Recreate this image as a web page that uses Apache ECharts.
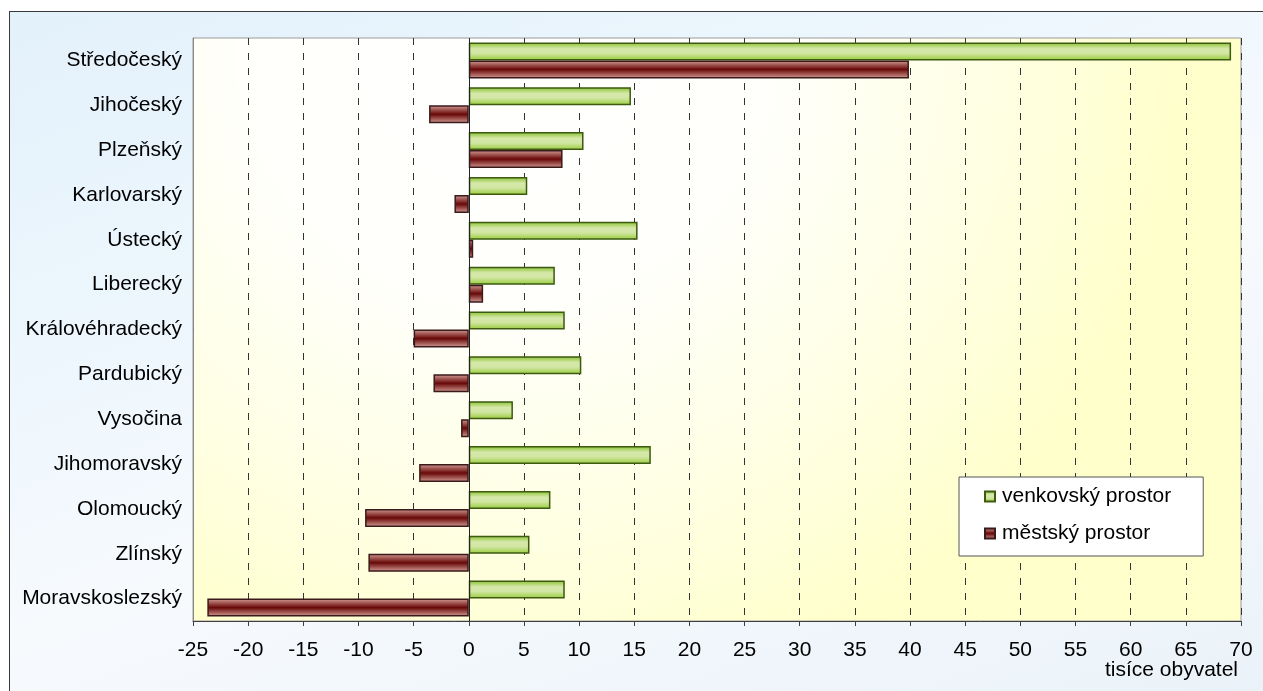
<!DOCTYPE html>
<html><head><meta charset="utf-8">
<script src="https://cdn.jsdelivr.net/npm/echarts@6/dist/echarts.min.js"></script>
<style>
html,body{margin:0;padding:0;width:1263px;height:691px;overflow:hidden;background:#fff;}
#frame{position:absolute;left:9px;top:11px;width:1262px;height:690px;border:1px solid #3a3a3a;box-sizing:border-box;
background:linear-gradient(160deg,#e3f1fb 0%,#eef7fd 35%,#f7fafd 55%,#eaf2f9 100%);}
#chart{position:absolute;left:0;top:0;width:1263px;height:691px;}
</style></head>
<body>
<div id="frame"></div>
<div id="chart"></div>
<script>
const categories = ['Středočeský','Jihočeský','Plzeňský','Karlovarský','Ústecký','Liberecký','Královéhradecký','Pardubický','Vysočina','Jihomoravský','Olomoucký','Zlínský','Moravskoslezský'];
const venkovsky = [69.1, 14.7, 10.4, 5.3, 15.3, 7.8, 8.7, 10.2, 4.0, 16.5, 7.4, 5.5, 8.7];
const mestsky = [39.9, -3.6, 8.5, -1.3, 0.4, 1.3, -5.0, -3.2, -0.7, -4.5, -9.4, -9.1, -23.7];
const xTicks = {min: -25, max: 70, interval: 5};
const seriesNames = ['venkovský prostor','městský prostor'];
const axisTitle = 'tisíce obyvatel';

const chart = echarts.init(document.getElementById('chart'));
const font = 'Liberation Sans, Arial, sans-serif';
const greenGrad = new echarts.graphic.LinearGradient(0,0,0,1,[
  {offset:0,color:'#86c22c'},{offset:0.35,color:'#d6e8aa'},{offset:0.6,color:'#d2e6a4'},{offset:1,color:'#96cc38'}]);
const redGrad = new echarts.graphic.LinearGradient(0,0,0,1,[
  {offset:0,color:'#d6a098'},{offset:0.5,color:'#680808'},{offset:1,color:'#d6a098'}]);
chart.setOption({
  animation:false,
  textStyle:{fontFamily:font},
  graphic:[
    {type:'rect',z:-10,shape:{x:193,y:38,width:1048,height:583},
     style:{fill:new echarts.graphic.RadialGradient(0.3,0,1.15,[
       {offset:0,color:'#ffffff'},{offset:0.4,color:'#fffffb'},{offset:0.75,color:'#ffffe2'},{offset:1,color:'#ffffcc'}]),
       stroke:'#9a9a9a',lineWidth:1}},
    {type:'text',right:25,top:660,style:{text:axisTitle,font:'21px '+font,fill:'#000'}}
  ],
  legend:{
    orient:'vertical',left:959,top:477,
    padding:[9,32,12,25],
    itemGap:16,itemWidth:10,itemHeight:10,icon:'rect',
    backgroundColor:'#ffffff',borderColor:'#555',borderWidth:1,
    textStyle:{fontSize:21,color:'#000',fontFamily:font,padding:[0,0,0,2]},
    data:seriesNames
  },
  grid:{left:193,top:38,right:22,bottom:70,containLabel:false},
  xAxis:{type:'value',min:xTicks.min,max:xTicks.max,interval:xTicks.interval,
    axisLine:{show:true,onZero:false,lineStyle:{color:'#404040'}},
    axisTick:{show:true,length:5,lineStyle:{color:'#404040'}},
    axisLabel:{fontSize:21,color:'#000',margin:19,fontFamily:font},
    splitLine:{show:true,lineStyle:{color:'#333',type:[7,8],width:1}}},
  yAxis:{type:'category',data:categories,inverse:true,
    axisLine:{show:true,onZero:false,lineStyle:{color:'#888',width:1}},
    axisTick:{show:false},
    axisLabel:{fontSize:21,color:'#000',margin:11,fontFamily:font}},
  series:[
    {name:seriesNames[0],type:'bar',data:venkovsky,barWidth:18,barGap:'0%',
     itemStyle:{color:greenGrad,borderColor:'#3d5a10',borderWidth:1.5}},
    {name:seriesNames[1],type:'bar',data:mestsky,barWidth:18,barGap:'0%',
     itemStyle:{color:redGrad,borderColor:'#3a1a1a',borderWidth:1.5}},
    {type:'line',data:[],markLine:{silent:true,symbol:'none',label:{show:false},
      lineStyle:{color:'#222',type:'solid',width:1},data:[{xAxis:0}]}}
  ]
});
</script>
</body></html>
